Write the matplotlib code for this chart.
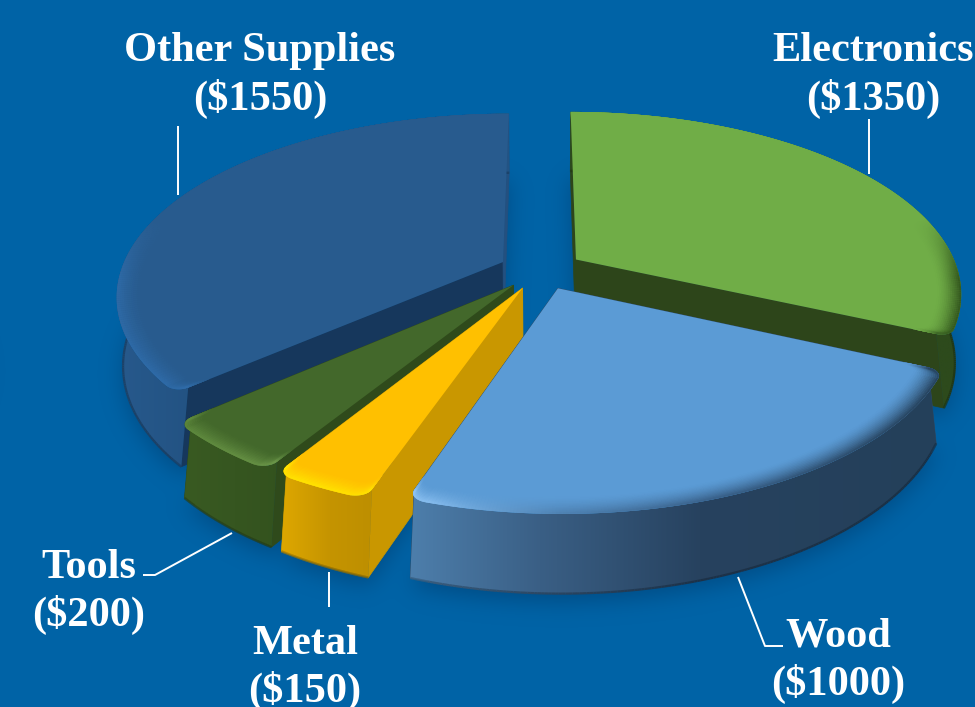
#!/usr/bin/env python
"""Exploded 3D pie of project spending, drawn by projecting each wedge by hand."""

import numpy as np
import matplotlib
matplotlib.use("Agg")
import matplotlib.pyplot as plt
from matplotlib.collections import LineCollection
from matplotlib.colors import to_rgb
from matplotlib.patches import PathPatch
from matplotlib.path import Path

categories = ["Electronics", "Wood", "Metal", "Tools", "Other Supplies"]
amounts = [1350, 1000, 150, 200, 1550]

W, H = 975, 707
BG = "#0063A6"

# projection of disk coordinates (u right, v towards the viewer, z down)
CX, CY = 541, 270
SCALE, TILT, PERSP, DEPTH, PERSP_Z = 382.0, 0.465, 0.18, 0.18, 0.015
EXPLODE = 0.11
RIM = 0.06
CORNER_ANGLE, CORNER_DROP = 0.04, 0.035
BOTTOM_RADIUS = 1.0

TOP = {"Electronics": "#70AD47", "Wood": "#5B9BD5", "Metal": "#FFC000",
       "Tools": "#43682B", "Other Supplies": "#285B8E"}
# radial wall colours: (start edge, end edge) of each wedge
SIDE = {"Electronics": ("#2D451A", "#2D451A"), "Wood": ("#2D4A66", "#2D4A66"),
        "Metal": ("#C99700", "#C99700"), "Tools": ("#2F4A1B", "#2F4A1B"),
        "Other Supplies": ("#16375C", "#24507F")}
# horizontal colour stops for the outer wall and for the rim highlight
WALL = {"Electronics": [(800, "#2D4A1C"), (960, "#2D4A1C")],
        "Wood": [(412, "#4D7EAB"), (540, "#3A5F85"), (700, "#27425F"), (940, "#24405A")],
        "Metal": [(283, "#DDA700"), (330, "#C59400"), (380, "#BC8E00")],
        "Tools": [(185, "#395A22"), (285, "#33521E")],
        "Other Supplies": [(115, "#27598C"), (190, "#235383")]}
RIM_HI = {"Electronics": [(570, "#70AD47"), (890, "#70AD47"), (950, "#355A1F")],
          "Wood": [(412, "#8FC4F5"), (470, "#6FA8DC"), (560, "#4F83B4"), (720, "#39618A"), (940, "#27445F")],
          "Metal": [(283, "#FFE600"), (375, "#FFE000")],
          "Tools": [(185, "#5F8A3E"), (280, "#6A9548")],
          "Other Supplies": [(115, "#2D69A5"), (190, "#2F6BA8"), (500, "#285B8E")]}

text_labels = [("Other Supplies\n($1550)", 260, 75.5), ("Electronics\n($1350)", 873, 75.5),
               ("Wood\n($1000)", 838, 661), ("Metal\n($150)", 305, 668), ("Tools\n($200)", 89, 592)]
leaders = [[(178, 126), (178, 195)], [(869, 119), (869, 174)],
           [(738, 577), (765, 646), (783, 646)], [(329, 572), (329, 607)],
           [(232, 533), (155, 575), (143, 575)]]


def project(u, v, z=0.0):
    w = 1 - PERSP * v + PERSP_Z * z
    return CX + SCALE * u / w, CY + SCALE * (TILT * v + DEPTH * z) / w


def wedge_point(a0, a1, theta, r=1.0, z=0.0):
    mid = 0.5 * (a0 + a1)
    u = EXPLODE * np.sin(mid) + r * np.sin(theta)
    v = -EXPLODE * np.cos(mid) - r * np.cos(theta)
    return np.column_stack(project(u, v, z))


def corner_radius(a0, a1, theta):
    # pulls the outer arc in near the radial edges so the front corners come out
    # rounded; the two corners at twelve o'clock stay sharp
    d0 = (theta - a0) if a0 > 0 else np.full_like(theta, np.inf)
    d1 = (a1 - theta) if a1 < 2 * np.pi - 1e-6 else np.full_like(theta, np.inf)
    d = np.clip(np.minimum(d0, d1) / CORNER_ANGLE, 0, 1)
    return 1 - CORNER_DROP * (1 - np.sqrt(1 - (1 - d) ** 2))


def mix_stops(stops, x):
    xs = [s[0] for s in stops]
    rgb = np.array([to_rgb(s[1]) for s in stops])
    return np.column_stack([np.interp(x, xs, rgb[:, i]) for i in range(3)])


def fill_gradient(ax, xy, stops, zorder):
    patch = PathPatch(Path(np.vstack([xy, xy[:1]]), closed=True), fc="none", ec="none", zorder=zorder)
    ax.add_patch(patch)
    xs = np.linspace(xy[:, 0].min(), xy[:, 0].max(), 256)
    im = ax.imshow(mix_stops(stops, xs)[None, :, :], aspect="auto", zorder=zorder,
                   extent=(xs[0], xs[-1], xy[:, 1].max(), xy[:, 1].min()), interpolation="bilinear")
    im.set_clip_path(patch)


def gaussian_blur(img, sigma):
    fy = np.fft.fftfreq(img.shape[0])[:, None]
    fx = np.fft.rfftfreq(img.shape[1])[None, :]
    g = np.exp(-2 * (np.pi * sigma) ** 2 * (fx ** 2 + fy ** 2))
    return np.fft.irfft2(np.fft.rfft2(img) * g, s=img.shape)


fig = plt.figure(figsize=(W / 100, H / 100), dpi=100, facecolor=BG)
ax = fig.add_axes([0, 0, 1, 1])
ax.set_facecolor(BG)

edges = np.concatenate([[0], np.cumsum(amounts)]) / sum(amounts) * 2 * np.pi
spans = {c: (edges[i], edges[i + 1]) for i, c in enumerate(categories)}

# soft shadow of the wedge footprints on the background
gx, gy = np.meshgrid(np.arange(W) + 0.5, np.arange(H) + 0.5)
grid = np.column_stack([gx.ravel(), gy.ravel()])
mask = np.zeros((H, W))
for name, (a0, a1) in spans.items():
    th = np.linspace(a0, a1, 80)
    foot = np.vstack([wedge_point(a0, a1, a0, 0, 1), wedge_point(a0, a1, th, BOTTOM_RADIUS, 1)])
    foot[:, 1] += 8
    mask = np.maximum(mask, Path(foot).contains_points(grid).reshape(H, W).astype(float))
shade = np.zeros((H, W, 4))
shade[..., :3] = to_rgb("#00325F")
shade[..., 3] = np.clip(gaussian_blur(mask, 11), 0, 1) * 0.45
ax.imshow(shade, extent=(0, W, H, 0), aspect="auto", zorder=1)

# back wedges first; wood overlaps the metal side wall
order = ["Other Supplies", "Electronics", "Tools", "Metal", "Wood"]
for i, name in enumerate(order):
    a0, a1 = spans[name]
    base = 10 + i * 10
    # more samples close to the radial edges, where the corners bend
    th = np.unique(np.concatenate([np.linspace(a0, a1, 200),
                                   np.linspace(a0, a0 + CORNER_ANGLE, 30),
                                   np.linspace(a1 - CORNER_ANGLE, a1, 30)]))
    rr = corner_radius(a0, a1, th)
    top_arc = wedge_point(a0, a1, th, rr)
    bot_arc = wedge_point(a0, a1, th, BOTTOM_RADIUS, 1)
    apex_top = wedge_point(a0, a1, a0, 0)
    apex_bot = wedge_point(a0, a1, a0, 0, 1)

    # radial walls, the back-facing ones end up under the top surface
    for end_top, end_bot, col in ((top_arc[:1], bot_arc[:1], SIDE[name][0]),
                                  (top_arc[-1:], bot_arc[-1:], SIDE[name][1])):
        ax.fill(*np.vstack([apex_top, end_top, end_bot, apex_bot]).T, fc=col, ec=col, lw=0.5, zorder=base)

    fill_gradient(ax, np.vstack([top_arc, bot_arc[::-1]]), WALL[name], base + 1)
    dark = mix_stops(WALL[name], bot_arc[:, 0]) * 0.75
    ax.add_collection(LineCollection(np.stack([bot_arc[:-1], bot_arc[1:]], axis=1), colors=dark[:-1],
                                     linewidths=1.6, zorder=base + 1))

    top_xy = np.vstack([apex_top, top_arc])
    top_patch = ax.fill(*top_xy.T, fc=TOP[name], ec="none", zorder=base + 2)[0]

    # bevel along the outer edge of the top surface, fading out towards the back
    base_rgb = np.array(to_rgb(TOP[name]))
    fade = np.clip((-np.cos(th) + 0.25) / 0.35, 0, 1)[:, None]
    for r in np.linspace(1 - RIM, 1.0, 14):
        amt = ((r - (1 - RIM)) / RIM) ** 1.5 * fade
        arc = wedge_point(a0, a1, th, r * rr)
        col = base_rgb * (1 - amt) + mix_stops(RIM_HI[name], arc[:, 0]) * amt
        lc = LineCollection(np.stack([arc[:-1], arc[1:]], axis=1), colors=col[:-1],
                            linewidths=2.6, capstyle="butt", zorder=base + 3)
        ax.add_collection(lc)
        lc.set_clip_path(top_patch)

for pts in leaders:
    ax.plot(*np.array(pts).T, color="white", lw=1.4, zorder=80, solid_capstyle="butt")

for s, x, y in text_labels:
    ax.text(x, y, s, color="white", ha="center", va="center", fontsize=30.5, fontweight="bold",
            family="Liberation Serif", linespacing=1.27, zorder=90)

ax.set_xlim(0, W)
ax.set_ylim(H, 0)
ax.axis("off")
fig.savefig("out.png", dpi=100, facecolor=BG)
